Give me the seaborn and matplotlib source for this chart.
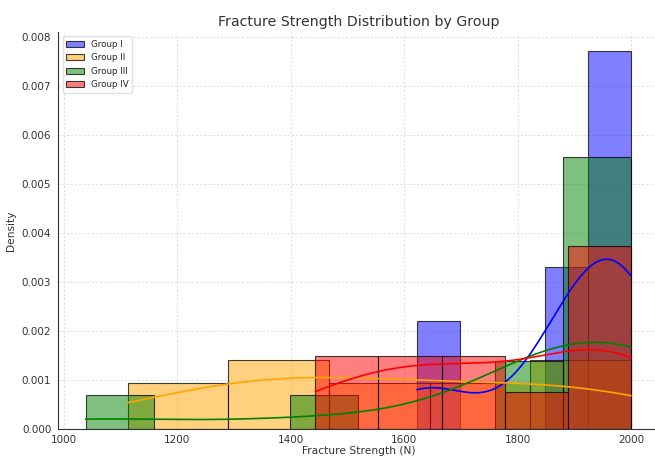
import matplotlib
matplotlib.use("Agg")
import matplotlib.pyplot as plt
import seaborn as sns
import pandas as pd

# ---- data (fracture strength, N) ----
group_names = ["Group I", "Group II", "Group III", "Group IV"]
group_i = [1622, 1662, 1852, 1870, 1900, 1935, 1958, 1975, 1988, 1995, 2000, 2000]
group_ii = [1112, 1255, 1310, 1380, 1440, 1520, 1600, 1700, 1780, 1895, 1955, 2000]
group_iii = [1038, 1450, 1775, 1848, 1900, 1930, 1950, 1962, 1972, 1983, 1993, 2000]
group_iv = [1443, 1520, 1580, 1640, 1690, 1750, 1830, 1925, 1955, 1975, 1992, 2000]

# ---- style ----
colors = ["blue", "orange", "green", "red"]
bin_counts = [5, 5, 8, 5]

sns.set_style("white")
plt.rcParams["font.family"] = ["DejaVu Sans"]

df = pd.DataFrame({
    "strength": group_i + group_ii + group_iii + group_iv,
    "group": (["Group I"] * len(group_i) + ["Group II"] * len(group_ii)
              + ["Group III"] * len(group_iii) + ["Group IV"] * len(group_iv)),
})

fig = plt.figure(figsize=(6.55, 4.57), dpi=100)
ax = fig.add_axes([58.3 / 655, 28 / 457, 600 / 655, 397 / 457])

for name, col, nb in zip(group_names, colors, bin_counts):
    sub = df[df["group"] == name]
    sns.histplot(data=sub, x="strength", bins=nb, stat="density", kde=True,
                 color=col, alpha=0.5, edgecolor=(0, 0, 0, 0.75), linewidth=0.8,
                 line_kws={"linewidth": 1.2}, label=name, ax=ax)

ax.set_title("Fracture Strength Distribution by Group", fontsize=10.2,
             color="#333333", pad=4)
ax.set_xlabel("Fracture Strength (N)", fontsize=7.7, color="#333333", labelpad=1)
ax.set_ylabel("Density", fontsize=7.7, color="#333333", labelpad=4)
ax.set_xticks([1000, 1200, 1400, 1600, 1800, 2000])
ax.tick_params(axis="x", pad=1)
ax.tick_params(axis="y", pad=2)
ax.tick_params(axis="both", labelsize=7.5, colors="#333333", length=3,
               width=0.8, direction="out")
ax.yaxis.set_major_formatter(matplotlib.ticker.FormatStrFormatter("%.3f"))

ax.grid(True, linestyle=(0, (3, 3)), linewidth=0.5, color="#d0d0d0")
ax.set_axisbelow(True)
for s in ["top", "right"]:
    ax.spines[s].set_visible(False)
for s in ["left", "bottom"]:
    ax.spines[s].set_color("#333333")
    ax.spines[s].set_linewidth(0.8)

handles = [c for c in ax.containers]
ax.legend(handles, group_names, loc="upper left", fontsize=6.3,
          frameon=True, edgecolor="#dddddd", framealpha=0.9)

fig.savefig("out.png", dpi=100)
